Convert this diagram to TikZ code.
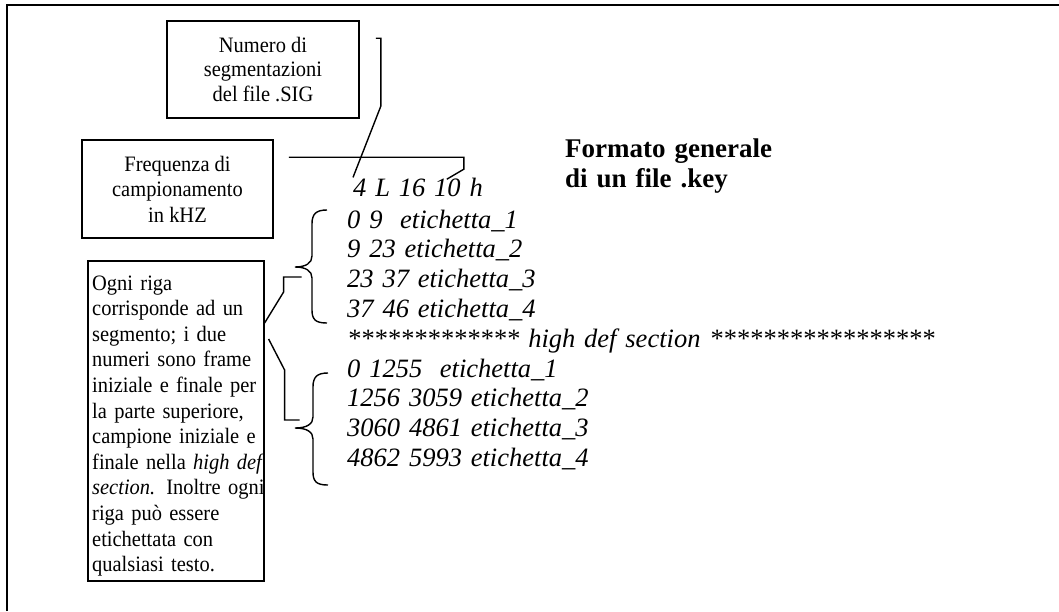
\documentclass[tikz,border=0pt]{standalone}
\usepackage{fontspec}
\setmainfont{Liberation Serif}
\newfontfamily\boxfont{Liberation Serif}[FakeStretch=0.93]

\begin{document}
\begin{tikzpicture}[x=1pt,y=-1pt,
  box/.style={draw, line width=1.6pt, inner sep=0pt, align=center, font=\boxfont\fontsize{22}{24.5}\selectfont},
  link/.style={line width=1.4pt},
  curly/.style={line width=1.4pt},
  keytext/.style={inner sep=0pt, anchor=base west, align=left, text width=640pt, font=\fontsize{26.5}{29.8}\selectfont\itshape}]
\useasboundingbox (0,0) rectangle (1059,611);
% cornice
\draw[line width=2pt] (7,611)--(7,5)--(1059,5);
% riquadri di spiegazione
\node[box, minimum width=192pt, minimum height=97pt] (num) at (263,69.5) {Numero di\\segmentazioni\\del file .SIG};
\node[box, minimum width=191pt, minimum height=98pt, font=\boxfont\fontsize{22}{25.5}\selectfont] (freq) at (177.5,189) {Frequenza di\\campionamento\\in kHZ};
\node[box, minimum width=176pt, minimum height=320pt, anchor=north west] (note) at (87,260) {};
\node[inner sep=0pt, anchor=base west, text width=180pt, align=left, font=\boxfont\fontsize{22}{25.6}\selectfont] (notetext) at (92,290)
  {Ogni riga\\corrisponde ad un\\segmento; i due\\numeri sono frame\\iniziale e finale per\\la parte superiore,\\campione iniziale e\\finale nella \textit{high def}\\\textit{section.} Inoltre ogni\\riga può essere\\etichettata con\\qualsiasi testo.};
\node[inner sep=0pt, anchor=base west, align=left, text width=300pt, font=\fontsize{27}{30}\selectfont\bfseries] (title) at (565,157) {Formato generale\\di un file .key};
% contenuto del file .key
\node[keytext] (hdr) at (353,196) {4 L 16 10 h};
\node[keytext] (rows) at (347,228) {0 9\ \ etichetta\_1\\9 23 etichetta\_2\\23 37 etichetta\_3\\37 46 etichetta\_4\\************** high def section *****************\\0 1255\ \ etichetta\_1\\1256 3059 etichetta\_2\\3060 4861 etichetta\_3\\4862 5993 etichetta\_4};
% graffe
\draw[curly] (327,210) .. controls (316,210) and (312,214) .. (312,224) -- (312,256) .. controls (312,263) and (306,267) .. (295,267) .. controls (306,267) and (312,271) .. (312,278) -- (312,310) .. controls (312,320) and (316,323) .. (327,323);
\draw[curly] (328,373) .. controls (317,373) and (313,377) .. (313,387) -- (313,417) .. controls (313,424) and (307,428) .. (295,428) .. controls (307,428) and (313,432) .. (313,439) -- (313,472) .. controls (313,482) and (317,485) .. (328,485);
% collegamenti
\draw[link] ([shift={(16,18)}]num.north east) -- ++(5,0) -- ++(0,68) -- (hdr.north west);
\draw[link] ([shift={(15,18)}]freq.north east) -- ++(175,0) -- ++(0,12) -- ++(-17,10);
\draw[link] ([shift={(0,63)}]note.north east) -- ++(19,-31) -- ++(0,-15) -- ++(18,0);
\draw[link] ([shift={(4,79)}]note.north east) -- ++(16,31) -- ++(0,50) -- ++(15,0);
\end{tikzpicture}
\end{document}
